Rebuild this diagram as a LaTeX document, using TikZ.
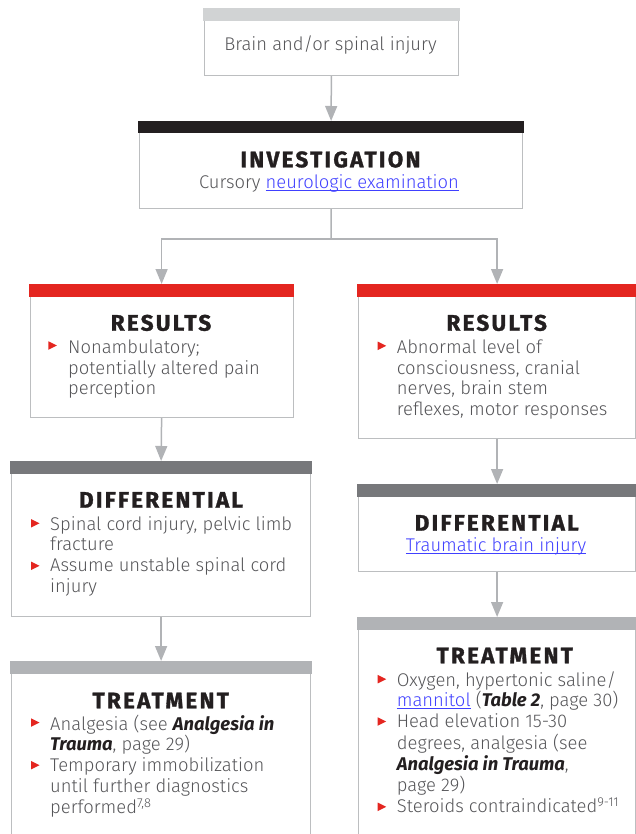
\documentclass[tikz,border=0pt]{standalone}
\usepackage{fontspec}
\setmainfont{Fira Sans}[UprightFont=* Light, ItalicFont=* Light Italic, BoldFont=* Bold, BoldItalicFont=* Bold Italic]
\newfontfamily\titlefont{Fira Sans}[UprightFont=* Bold, FakeBold=1.3, LetterSpace=10]
\usetikzlibrary{arrows.meta}
\definecolor{boxgray}{HTML}{BCBEC0}
\definecolor{arrowgray}{HTML}{B1B3B6}
\definecolor{toplight}{HTML}{D1D3D4}
\definecolor{barblack}{HTML}{231F20}
\definecolor{barred}{HTML}{E42620}
\definecolor{bardark}{HTML}{77787B}
\definecolor{barlight}{HTML}{B1B3B6}
\definecolor{textgray}{HTML}{555558}
\definecolor{titleblack}{HTML}{231F20}
\definecolor{linkblue}{HTML}{4040FF}
\definecolor{bulletred}{HTML}{E42620}
\newcommand\lnk[1]{{\color{linkblue}\setbox0\hbox{#1}\rlap{\rule[-2.2pt]{\wd0}{0.9pt}}\box0}}
\newcommand\bi[1]{{\color{titleblack}\bfseries\itshape #1}}
\newcommand\bulletmark[2]{\fill[bulletred] (#1,#2-4.25) -- (#1,#2+4.25) -- (#1+8.5,#2) -- cycle;}
\newcommand\barfill[3]{\fill[#1] ([xshift=-0.6pt,yshift=0.6pt]#2.north west) rectangle ([xshift=0.6pt,yshift=-#3pt]#2.north east);}
\tikzset{
  box/.style={draw=boxgray, line width=1.2pt, rectangle, inner sep=0pt, anchor=north west},
  ttl/.style={anchor=base, inner sep=0pt, font=\titlefont\fontsize{22.5}{22.5}\selectfont, text=titleblack},
  txt/.style={anchor=base west, inner sep=0pt, font=\fontsize{18.4}{21}\selectfont, text=textgray},
  ctxt/.style={txt, anchor=base},
  conn/.style={draw=arrowgray, line width=1.5pt},
  arr/.style={conn, -{Triangle[width=12pt,length=15pt]}, shorten >=1pt}
}
\begin{document}
\begin{tikzpicture}[x=1pt,y=-1pt]
\path[use as bounding box] (0,0) rectangle (636,834);
\clip (0,0) rectangle (636,834);
% boxes
\node[box, minimum width=254.5pt, minimum height=66pt] (top) at (203.5,9) {};
\node[box, minimum width=383pt, minimum height=86pt] (inv) at (139,122) {};
\node[box, minimum width=263pt, minimum height=132pt] (resL) at (29.5,285) {};
\node[box, minimum width=277pt, minimum height=153pt] (resR) at (358,285) {};
\node[box, minimum width=299pt, minimum height=154pt] (difL) at (11,462) {};
\node[box, minimum width=277pt, minimum height=86pt] (difR) at (358,485) {};
\node[box, minimum width=299pt, minimum height=220pt] (trL) at (11,662) {};
\node[box, minimum width=277pt, minimum height=260pt] (trR) at (358,618) {};
% bars
\barfill{toplight}{top}{12}
\barfill{barblack}{inv}{11.5}
\barfill{barred}{resL}{12}
\barfill{barred}{resR}{12}
\barfill{bardark}{difL}{12}
\barfill{bardark}{difR}{12}
\barfill{barlight}{trL}{12}
\barfill{barlight}{trR}{12}
% connectors
\coordinate (br) at (331,239);
\draw[arr] (top.south) -- (inv.north);
\draw[conn] (inv.south) -- (br);
\draw[arr] (br) -| (resL.north);
\draw[arr] (br) -| (resR.north);
\draw[arr] (resL.south) -- (difL.north);
\draw[arr] (resR.south) -- (difR.north);
\draw[arr] (difL.south) -- (trL.north);
\draw[arr] (difR.south) -- (trR.north);
% top
\node[ctxt] (t1) at (330.5,51) {Brain and/or spinal injury};
% investigation
\node[ttl] (invT) at (330.5,167.3) {INVESTIGATION};
\node[ctxt] (inv1) at (329,189) {Cursory \lnk{neurologic examination}};
% results left
\node[ttl] (resLT) at (161,330.7) {RESULTS};
\bulletmark{48.3}{345.5}
\node[txt] (rl1) at (68,353.5) {Nonambulatory;};
\node[txt] (rl2) at (68,374) {potentially altered pain};
\node[txt] (rl3) at (68,394.5) {perception};
% results right
\node[ttl] (resRT) at (496.7,330.7) {RESULTS};
\bulletmark{377.7}{345.8}
\node[txt] (rr1) at (396.7,353.3) {Abnormal level of};
\node[txt] (rr2) at (396.7,374.3) {consciousness, cranial};
\node[txt] (rr3) at (396.7,394.8) {nerves, brain stem};
\node[txt] (rr4) at (396.7,415.7) {reflexes, motor responses};
% differential left
\node[ttl] (difLT) at (161,507.7) {DIFFERENTIAL};
\bulletmark{31}{523.3}
\node[txt] (dl1) at (50,530) {Spinal cord injury, pelvic limb};
\node[txt] (dl2) at (50,550.7) {fracture};
\bulletmark{31}{565.8}
\node[txt] (dl3) at (50,571.7) {Assume unstable spinal cord};
\node[txt] (dl4) at (50,592.3) {injury};
% differential right
\node[ttl] (difRT) at (496.7,530.7) {DIFFERENTIAL};
\node[ctxt] (dr1) at (496,551.7) {\lnk{Traumatic brain injury}};
% treatment left
\node[ttl] (trLT) at (160.7,708.3) {TREATMENT};
\bulletmark{31}{722.5}
\node[txt] (tl1) at (50,730) {Analgesia (see \bi{Analgesia in}};
\node[txt] (tl2) at (50,750.7) {\bi{Trauma}, page 29)};
\bulletmark{31}{765.2}
\node[txt] (tl3) at (50,771.7) {Temporary immobilization};
\node[txt] (tl4) at (50,792.3) {until further diagnostics};
\node[txt] (tl5) at (50,813.3) {performed\textsuperscript{7,8}};
% treatment right
\node[ttl] (trRT) at (504.7,663.3) {TREATMENT};
\bulletmark{377.7}{679.2}
\node[txt] (tr1) at (396.7,686) {Oxygen, hypertonic saline/};
\node[txt] (tr2) at (396.7,706.7) {\lnk{mannitol} (\bi{Table 2}, page 30)};
\bulletmark{377.7}{721.5}
\node[txt] (tr3) at (396.7,727.7) {Head elevation 15-30};
\node[txt] (tr4) at (396.7,749) {degrees, analgesia (see};
\node[txt] (tr5) at (396.7,770) {\bi{Analgesia in Trauma},};
\node[txt] (tr6) at (396.7,791) {page 29)};
\bulletmark{377.7}{806.8}
\node[txt] (tr7) at (396.7,812.3) {Steroids contraindicated\textsuperscript{9-11}};
\end{tikzpicture}
\end{document}
